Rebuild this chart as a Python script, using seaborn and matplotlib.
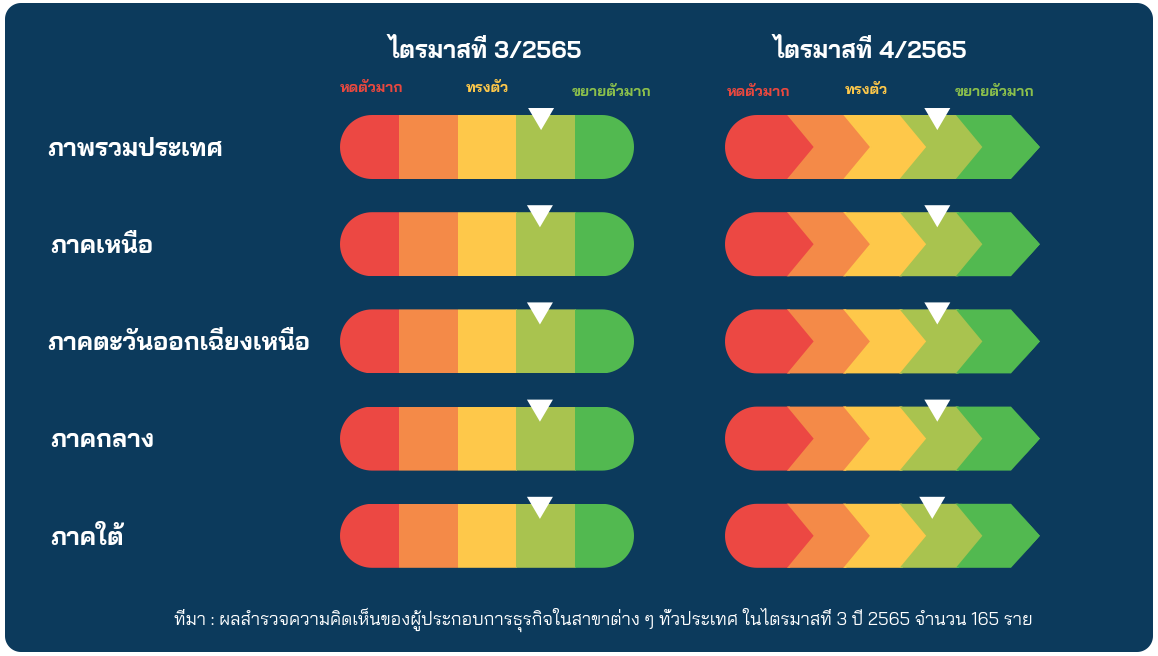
import matplotlib
matplotlib.use("Agg")
import matplotlib.pyplot as plt
import seaborn as sns
import pandas as pd
import numpy as np
from matplotlib.patches import Polygon, Rectangle, PathPatch
from matplotlib.path import Path

sns.set_theme(style="white")
FONT = ['Bai Jamjuree', 'Prompt', 'DejaVu Sans']
plt.rcParams['font.family'] = FONT

# ---------------- data ----------------
regions = ["ภาพรวมประเทศ", "ภาคเหนือ", "ภาคตะวันออกเฉียงเหนือ", "ภาคกลาง", "ภาคใต้"]
periods = ["ไตรมาสที่ 3/2565", "ไตรมาสที่ 4/2565"]
scale_labels = ["หดตัวมาก", "ทรงตัว", "ขยายตัวมาก"]
q3_values = [3.42, 3.40, 3.40, 3.40, 3.40]   # position on 0..5 scale
q4_values = [3.37, 3.37, 3.37, 3.37, 3.29]
footer = "ที่มา : ผลสำรวจความคิดเห็นของผู้ประกอบการธุรกิจในสาขาต่าง ๆ ทั่วประเทศ ในไตรมาสที่ 3 ปี 2565 จำนวน 165 ราย"

seg_colors = ["#EC4843", "#F48A48", "#FEC84A", "#A9C34F", "#52B950"]
label_colors = ["#E8483F", "#FEC84A", "#8BBF4C"]
BG = "#0C3A5C"

W, H = 1158, 656
fig = plt.figure(figsize=(W / 100, H / 100), dpi=100)
fig.patch.set_facecolor("white")
ax = fig.add_axes([0, 0, 1, 1])


def arc_pts(cx, cy, r, a0, a1, n=60):
    t = np.linspace(a0, a1, n)
    return [(cx + r * np.cos(a), cy + r * np.sin(a)) for a in t]


def round_rect(x0, y0, x1, y1, r):
    pts = []
    pts += arc_pts(x1 - r, y0 + r, r, -np.pi / 2, 0, 20)
    pts += arc_pts(x1 - r, y1 - r, r, 0, np.pi / 2, 20)
    pts += arc_pts(x0 + r, y1 - r, r, np.pi / 2, np.pi, 20)
    pts += arc_pts(x0 + r, y0 + r, r, np.pi, 1.5 * np.pi, 20)
    return Path(pts + [pts[0]], closed=True)


ax.add_patch(PathPatch(round_rect(5, 3, W - 5, H - 4, 16), fc=BG, ec="none", zorder=0))

row_y = [147 + 97.2 * i for i in range(len(regions))]
half = 32
L0, L1 = 340, 634
R0, R1 = 725, 1040
depth = 29

for i, (name, yc) in enumerate(zip(regions, row_y)):
    ax.text(47 if i in (0, 2) else 50, yc + 2, name, color="white", fontsize=18,
            fontweight=700, ha="left", va="center")
    top, bot = yc - half, yc + half
    clip = PathPatch(round_rect(L0, top, L1, bot, half), fc="none", ec="none")
    ax.add_patch(clip)
    sw = (L1 - L0) / 5
    for k, c in enumerate(seg_colors):
        r = Rectangle((L0 + k * sw, top), sw + 0.5, 2 * half, fc=c, ec="none", zorder=2)
        ax.add_patch(r)
        r.set_clip_path(clip)
    outline_pts = [(R0 + half, top), (R1 - depth, top), (R1, yc), (R1 - depth, bot), (R0 + half, bot)]
    outline_pts += arc_pts(R0 + half, yc, half, np.pi / 2, 1.5 * np.pi, 40)
    clip2 = PathPatch(Path(outline_pts + [outline_pts[0]], closed=True), fc="none", ec="none")
    ax.add_patch(clip2)
    step = (R1 - 815) / 4
    tips = [815 + step * k for k in range(5)]
    for k, c in enumerate(seg_colors):
        t = tips[k]
        if k == 0:
            poly = [(R0 - 5, top - 3), (t - depth, top - 3), (t, yc), (t - depth, bot + 3), (R0 - 5, bot + 3)]
        else:
            p = tips[k - 1]
            poly = [(p - depth, top - 3), (t - depth, top - 3), (t, yc), (t - depth, bot + 3),
                    (p - depth, bot + 3), (p, yc)]
        pg = Polygon(poly, closed=True, fc=c, ec=c, lw=1.5, joinstyle="round", zorder=2 + 0.1 * k)
        ax.add_patch(pg)
        pg.set_clip_path(clip2)

tri = [(-1, 1), (1, 1), (0, -0.7), (-1, 1)]
mk = pd.DataFrame({
    "x": [L0 + v * (L1 - L0) / 5 for v in q3_values] + [R0 + v * (R1 - R0) / 5 for v in q4_values],
    "y": [y - half + 6 for y in row_y] * 2,
})
sns.scatterplot(data=mk, x="x", y="y", marker=tri, s=350, color="white", edgecolor="none",
                ax=ax, zorder=5, legend=False)
ax.set_xlim(0, W)
ax.set_ylim(H, 0)
ax.axis("off")

for cx, p in zip([485, 870], periods):
    ax.text(cx, 51, p, color="white", fontsize=17.3, fontweight=700, ha="center", va="center")
lab_pos = [[(340, "left"), (487, "center"), (651, "right")],
           [(727, "left"), (866, "center"), (1034, "right")]]
lab_y = [[89, 88, 92], [92, 91, 92]]
for panel in range(2):
    for j, (lab, col) in enumerate(zip(scale_labels, label_colors)):
        x, ha = lab_pos[panel][j]
        ax.text(x, lab_y[panel][j], lab, color=col, fontsize=10.5, fontweight=700, ha=ha, va="center")

ax.text(603, 620, footer, color="white", fontsize=12.9, ha="center", va="center")

fig.savefig("out.png", dpi=100, facecolor=fig.get_facecolor())
